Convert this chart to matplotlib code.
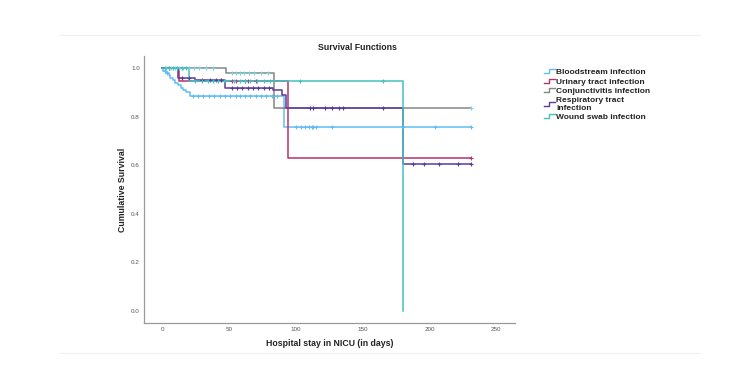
import matplotlib
matplotlib.use("Agg")
import matplotlib.pyplot as plt
from matplotlib.lines import Line2D
from matplotlib.legend_handler import HandlerBase
import numpy as np

plt.rcParams['font.family'] = ['Liberation Sans', 'DejaVu Sans']

# ---- data ----
labels = ["Bloodstream infection", "Urinary tract infection", "Conjunctivitis infection",
          "Respiratory tract\ninfection", "Wound swab infection"]
colors = ["#62bdf4", "#b4336c", "#858585", "#5c3a98", "#45c0c0"]
censor_colors = ["#62bdf4", "#b4336c", "#7fd0e0", "#5c3a98", "#45c0c0"]

blood_t = [0, 1, 3, 5, 6, 8, 10, 12, 14, 16, 18, 21, 91, 231]
blood_s = [1.0, 0.99, 0.98, 0.97, 0.96, 0.95, 0.94, 0.93, 0.92, 0.91, 0.90, 0.885, 0.757, 0.757]
blood_c = [2, 4, 23, 27, 31, 35, 39, 43, 47, 51, 55, 58, 62, 66, 70, 74, 78, 82, 86,
           100, 104, 107, 110, 112, 113, 115, 127, 180, 204, 231]

urin_t = [0, 13, 94, 231]
urin_s = [1.0, 0.946, 0.63, 0.63]
urin_c = [5, 52, 55, 62, 64, 70, 231]

conj_t = [0, 48, 84, 231]
conj_s = [1.0, 0.979, 0.835, 0.835]
conj_c = [3, 7, 10, 13, 16, 20, 24, 28, 33, 38, 52, 55, 58, 61, 65, 69, 74, 79, 231]

resp_t = [0, 12, 25, 47, 83, 90, 93, 180, 231]
resp_s = [1.0, 0.96, 0.95, 0.92, 0.91, 0.89, 0.835, 0.605, 0.605]
resp_c = [15, 20, 30, 36, 40, 44, 52, 56, 60, 64, 68, 72, 76, 80,
          111, 113, 122, 127, 132, 135, 165, 188, 196, 207, 221, 231]

wound_t = [0, 20, 180, 180]
wound_s = [1.0, 0.946, 0.0, 0.0]
wound_c = [2, 5, 8, 11, 15, 18, 25, 30, 34, 38, 42, 46, 54, 58, 62, 66, 71, 76, 81, 103, 165]

series = [(blood_t, blood_s, blood_c), (urin_t, urin_s, urin_c), (conj_t, conj_s, conj_c),
          (resp_t, resp_s, resp_c), (wound_t, wound_s, wound_c)]

x_ticks = [0, 50, 100, 150, 200, 250]
y_ticks = [0.0, 0.2, 0.4, 0.6, 0.8, 1.0]


def surv_at(t_arr, s_arr, t):
    idx = np.searchsorted(np.array(t_arr), t, side="right") - 1
    return s_arr[max(idx, 0)]


fig = plt.figure(figsize=(7.5, 3.76), dpi=100)
ax = fig.add_axes([144 / 750, 1 - 323 / 376, (515 - 144) / 750, (323 - 56) / 376])

draw_order = [2, 4, 0, 1, 3]
for i in draw_order:
    t_arr, s_arr, c_arr = series[i]
    ax.step(t_arr, s_arr, where="post", color=colors[i], lw=1.1, zorder=2 + i * 0.1)
    cy = [surv_at(t_arr, s_arr, c) for c in c_arr]
    ax.plot(c_arr, cy, linestyle="none", marker="+", ms=3.2, mew=0.8,
            color=censor_colors[i], zorder=2.5 + i * 0.1)

ax.set_xlim(-13.5, 264)
ax.set_ylim(-0.05, 1.05)
ax.set_xticks(x_ticks)
ax.set_xticklabels([str(v) for v in x_ticks])
ax.set_yticks(y_ticks)
ax.set_yticklabels([f"{v:.1f}" for v in y_ticks])
ax.tick_params(axis="both", length=0, labelsize=4.5, labelcolor="#555555", pad=3)
for side in ["top", "right"]:
    ax.spines[side].set_visible(False)
for side in ["left", "bottom"]:
    ax.spines[side].set_color("#999999")
    ax.spines[side].set_linewidth(0.9)

ax.set_xlabel("Hospital stay in NICU (in days)", fontsize=6.3, fontweight="bold",
              color="#222222", labelpad=5)
ax.set_ylabel("Cumulative Survival", fontsize=6.3, fontweight="bold",
              color="#222222", labelpad=3)
fig.text(357 / 750, 1 - 47 / 376, "Survival Functions", fontsize=6.3, fontweight="bold",
         color="#222222", ha="center", va="center")


class StepHandler(HandlerBase):
    def create_artists(self, legend, orig_handle, xdescent, ydescent, width, height,
                       fontsize, trans):
        x0, y0 = -xdescent, -ydescent
        xs = [x0, x0 + width * 0.45, x0 + width * 0.45, x0 + width]
        ys = [y0 + height * 0.15, y0 + height * 0.15, y0 + height * 0.85, y0 + height * 0.85]
        ln = Line2D(xs, ys, color=orig_handle.get_color(), lw=1.0, transform=trans)
        return [ln]


handles = [Line2D([], [], color=c) for c in colors]
leg = fig.legend(handles, labels, loc="upper left",
                 bbox_to_anchor=(541 / 750, 1 - 65 / 376), frameon=False,
                 handler_map={Line2D: StepHandler()}, handlelength=1.3,
                 handleheight=0.7, handletextpad=0.15, labelspacing=0.2,
                 prop={"size": 6.0, "weight": "bold"}, borderaxespad=0)
for txt in leg.get_texts():
    txt.set_color("#222222")

# faint frame lines of the original output
fig.add_artist(Line2D([60 / 750, 700 / 750], [1 - 35 / 376, 1 - 35 / 376],
                      color="#f0f0f0", lw=0.8))
fig.add_artist(Line2D([60 / 750, 700 / 750], [1 - 353 / 376, 1 - 353 / 376],
                      color="#f0f0f0", lw=0.8))

fig.savefig("out.png", dpi=100, facecolor="white")
